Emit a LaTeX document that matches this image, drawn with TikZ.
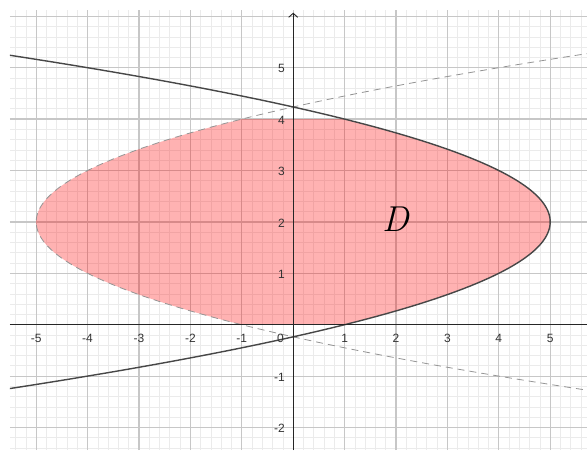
\documentclass[tikz,border=0pt]{standalone}
\usepackage{fontspec}
\newfontfamily\lblfont{Liberation Sans}
\usetikzlibrary{arrows.meta}
\begin{document}
\begin{tikzpicture}[x=51.4pt,y=51.4pt,
  minorgrid/.style={draw=black!8, line width=0.7pt},
  majorgrid/.style={draw=black!22, line width=1.2pt},
  axisline/.style={draw=black!85, line width=0.9pt},
  solidcurve/.style={draw=black!72, line width=1.4pt},
  dashcurve/.style={draw=black!42, line width=0.8pt, dash pattern=on 7pt off 5pt},
  region/.style={fill=red, fill opacity=0.3},
  ticklbl/.style={font=\lblfont\fontsize{12}{14}\selectfont, text=black!80, inner sep=1pt},
  bigletter/.style={font=\fontsize{36}{40}\selectfont\itshape, inner sep=0pt}]
\useasboundingbox (-5.704,-2.438) rectangle (5.716,6.317);
\coordinate (pa) at (-5.51,-2.438);
\coordinate (pb) at (5.716,6.123);
\begin{scope}
  \clip (pa) rectangle (pb);
  \draw[minorgrid] (pa) grid[step=0.2] (pb);
  \draw[majorgrid] (pa) grid[step=1] (pb);
  \fill[region] (-1,0) -- plot[domain=0:4, samples=80] ({5-(\x-2)^2},\x)
     -- plot[domain=4:0, samples=80] ({-5+(\x-2)^2},\x) -- cycle;
  \draw[dashcurve] plot[domain=-1.4:5.4, samples=140] ({-5+(\x-2)^2},\x);
  \draw[solidcurve] plot[domain=-1.4:5.4, samples=140] ({5-(\x-2)^2},\x);
  \coordinate (xs) at (-5.51,0);
  \coordinate (xe) at (5.716,0);
  \coordinate (ys) at (0,-2.438);
  \coordinate (ye) at (0,6.07);
  \draw[axisline] (xs) -- (xe);
  \draw[axisline, -{Straight Barb[length=4pt,width=9pt]}] (ys) -- (ye);
\end{scope}
\foreach \i in {-5,-4,-3,-2,-1,1,2,3,4,5}
  \node[ticklbl, anchor=base] (xl\i) at (\i,-0.34) {\i};
\foreach \i in {-2,-1,1,2,3,4,5}
  \node[ticklbl, anchor=east] (yl\i) at (-0.14,\i-0.02) {\i};
\node[ticklbl, anchor=base east] (o) at (-0.16,-0.34) {0};
\node[bigletter] (D) at (2.0,2.06) {D};
\end{tikzpicture}
\end{document}
